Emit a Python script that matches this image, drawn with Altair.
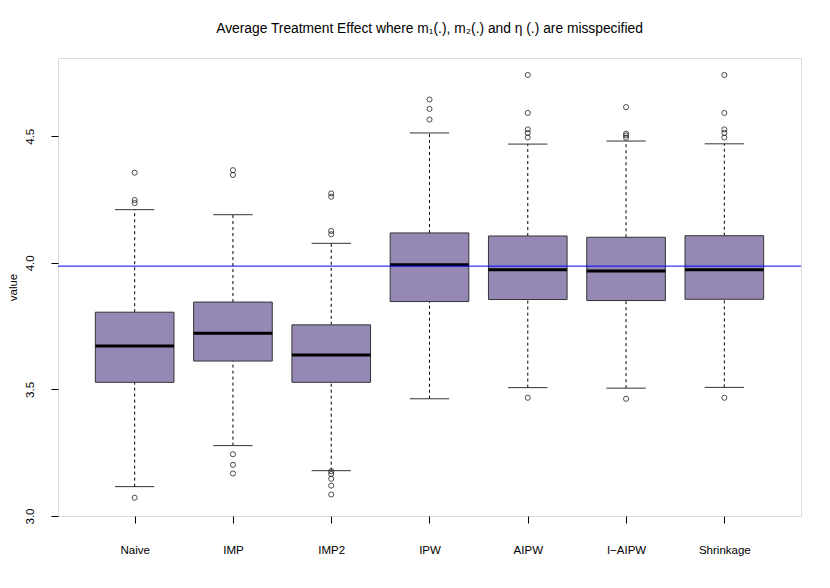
import json
import altair as alt
import pandas as pd

categories = ["Naive", "IMP", "IMP2", "IPW", "AIPW", "I\u2212AIPW", "Shrinkage"]
lower_whisker = [3.116, 3.278, 3.179, 3.463, 3.507, 3.505, 3.508]
q1 = [3.528, 3.612, 3.528, 3.847, 3.855, 3.851, 3.856]
median = [3.671, 3.722, 3.636, 3.992, 3.973, 3.968, 3.973]
q3 = [3.805, 3.845, 3.755, 4.118, 4.106, 4.101, 4.107]
upper_whisker = [4.210, 4.190, 4.077, 4.513, 4.469, 4.481, 4.470]
outliers = [
    [4.356, 4.248, 4.236, 3.072],
    [4.366, 4.347, 3.244, 3.202, 3.168],
    [4.274, 4.261, 4.126, 4.113, 3.177, 3.166, 3.147, 3.120, 3.085],
    [4.645, 4.608, 4.566],
    [4.742, 4.592, 4.527, 4.513, 4.495, 3.467],
    [4.615, 4.510, 4.503, 4.494, 3.463],
    [4.742, 4.592, 4.527, 4.513, 4.495, 3.467],
]
true_effect = 3.987
y_ticks = [3.0, 3.5, 4.0, 4.5]

FONT = "Liberation Sans"
BOX_FILL = "#9688B4"

stats = pd.DataFrame({
    "idx": list(range(1, len(categories) + 1)),
    "method": categories,
    "lw": lower_whisker,
    "q1": q1,
    "med": median,
    "q3": q3,
    "uw": upper_whisker,
})
out_df = pd.DataFrame(
    [{"idx": i + 1, "value": v} for i, vals in enumerate(outliers) for v in vals]
)
line_df = pd.DataFrame({"value": [true_effect]})

label_expr = json.dumps(categories) + "[datum.value - 1]"

x_scale = alt.Scale(domain=[0.22, 7.78], nice=False, zero=False)
y_scale = alt.Scale(domain=[3.0, 4.809], nice=False, zero=False)

x_axis = alt.Axis(
    values=list(range(1, 8)), labelExpr=label_expr, title=None, grid=False,
    domain=False, tickSize=7, tickColor="black", labelPadding=21,
    labelFontSize=11.5, labelFont=FONT, labelColor="black",
)
y_axis = alt.Axis(
    values=y_ticks, format=".1f", title="value", grid=False, domain=False,
    tickSize=7, tickColor="black", labelAngle=270, labelAlign="center",
    labelBaseline="bottom", labelPadding=16, labelFontSize=11.5, labelFont=FONT,
    labelColor="black", labelFlush=False, labelOverlap=False,
    titleFont=FONT, titleFontSize=11.5,
    titleFontWeight="normal", titleColor="black", titleAngle=270,
    titleX=-45, titleBaseline="middle", titleAlign="center",
)

base = alt.Chart(stats).transform_calculate(
    box_lo="datum.idx - 0.4", box_hi="datum.idx + 0.4",
    cap_lo="datum.idx - 0.2", cap_hi="datum.idx + 0.2",
)

whisk_up = base.mark_rule(color="black", strokeWidth=1, strokeDash=[3, 3]).encode(
    x=alt.X("idx:Q", scale=x_scale, axis=x_axis),
    y=alt.Y("q3:Q", scale=y_scale, axis=y_axis),
    y2="uw:Q",
)
whisk_lo = base.mark_rule(color="black", strokeWidth=1, strokeDash=[3, 3]).encode(
    x="idx:Q", y="lw:Q", y2="q1:Q",
)
cap_up = base.mark_rule(color="#333333", strokeWidth=1).encode(
    x="cap_lo:Q", x2="cap_hi:Q", y="uw:Q",
)
cap_lo = base.mark_rule(color="#333333", strokeWidth=1).encode(
    x="cap_lo:Q", x2="cap_hi:Q", y="lw:Q",
)
boxes = base.mark_rect(fill=BOX_FILL, stroke="#333333", strokeWidth=1).encode(
    x="box_lo:Q", x2="box_hi:Q", y="q1:Q", y2="q3:Q",
)
meds = base.mark_rule(color="black", strokeWidth=3).encode(
    x="box_lo:Q", x2="box_hi:Q", y="med:Q",
)
pts = alt.Chart(out_df).mark_point(
    shape="circle", filled=False, color="black", size=26, strokeWidth=1
).encode(x="idx:Q", y="value:Q")
hline = alt.Chart(line_df).mark_rule(color="blue", strokeWidth=1).encode(
    y="value:Q",
)

chart = alt.layer(
    whisk_up, whisk_lo, cap_up, cap_lo, boxes, meds, pts, hline
).properties(
    width=743,
    height=458,
    title=alt.TitleParams(
        "Average Treatment Effect where m\u2081(.), m\u2082(.) and \u03b7 (.) are misspecified",
        font=FONT, fontSize=13.8, fontWeight="normal", color="black",
        anchor="middle", offset=22,
    ),
    autosize=alt.AutoSizeParams(type="none"),
    padding={"left": 50, "top": 50, "right": 20, "bottom": 64},
).configure_view(
    stroke="black", strokeWidth=1
).configure(background="white")

chart.save("out.html", embed_options={"renderer": "svg", "actions": False})
